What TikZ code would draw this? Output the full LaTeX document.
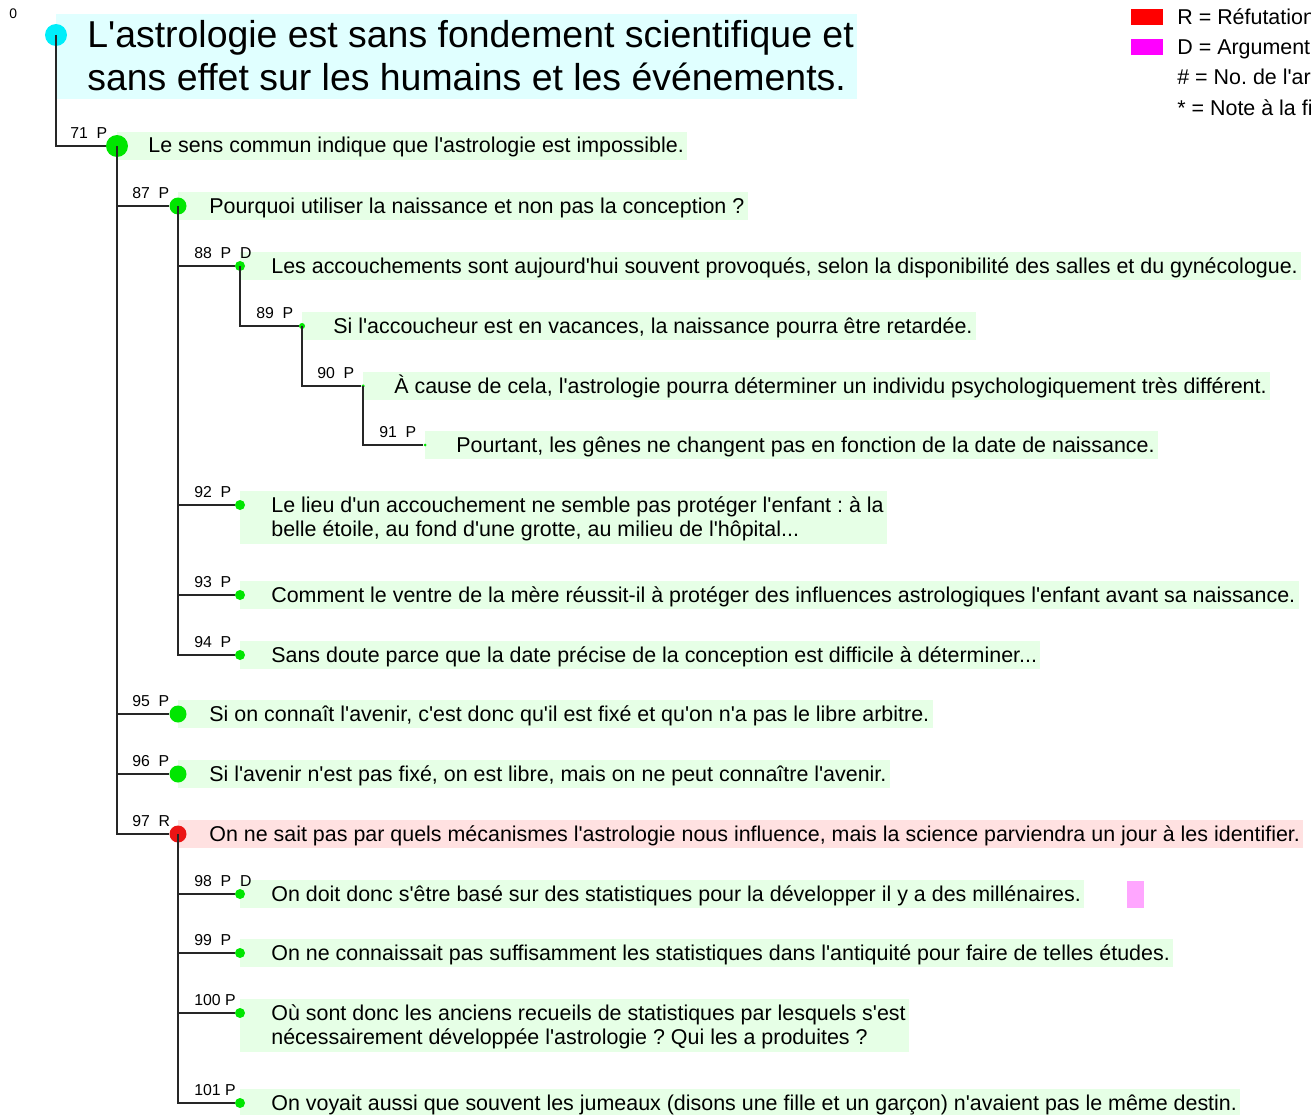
\documentclass[tikz,border=0pt]{standalone}
\usepackage{fontspec}
\setmainfont{Liberation Sans}
\usetikzlibrary{fit, backgrounds}
\definecolor{dotgreen}{RGB}{0,230,0}
\definecolor{boxgreen}{RGB}{230,255,230}
\definecolor{dotcyan}{RGB}{0,238,250}
\definecolor{boxcyan}{RGB}{224,255,255}
\definecolor{dotred}{RGB}{235,20,20}
\definecolor{boxred}{RGB}{255,225,225}
\definecolor{keyred}{RGB}{255,0,0}
\definecolor{keymagenta}{RGB}{255,0,255}
\definecolor{markpink}{RGB}{255,166,255}
\frenchspacing
\newcommand{\ap}{\textquotesingle}
\newcommand{\argfont}{\fontsize{12.2pt}{13.6pt}\selectfont}
\tikzstyle{argdot} = [circle, inner sep=0pt, fill=dotgreen]
\tikzstyle{dotA} = [argdot, minimum size=0.44cm]
\tikzstyle{dotB} = [argdot, minimum size=0.34cm]
\tikzstyle{dotC} = [argdot, minimum size=0.2cm]
\tikzstyle{dotD} = [argdot, minimum size=0.12cm]
\tikzstyle{dotE} = [argdot, minimum size=0.07cm]
\tikzstyle{dotF} = [argdot, minimum size=0.06cm]
\tikzstyle{argtext} = [anchor=west, inner xsep=0.06cm, inner ysep=0pt, text height=0.42cm, text depth=0.14cm, font=\argfont]
\tikzstyle{argtexttwo} = [anchor=north west, inner xsep=0.06cm, inner ysep=0pt, align=left, font=\argfont]
\tikzstyle{argbox} = [inner sep=0pt, fill=boxgreen]
\tikzstyle{numlabel} = [anchor=base west, inner sep=0pt, font=\fontsize{9pt}{10pt}\selectfont]
\tikzstyle{keybox} = [inner sep=0pt, minimum width=0.64cm, minimum height=0.32cm]
\tikzstyle{keytext} = [anchor=base west, inner sep=0pt, font=\fontsize{12.2pt}{14pt}\selectfont]
\tikzstyle{link} = [line width=0.7pt, black!85]

\begin{document}
\begin{tikzpicture}[x=0.02cm, y=-0.02cm]
\useasboundingbox (0,0) rectangle (1311,1115);
\clip (0,0) rectangle (1311,1115);

% Root claim
\node[numlabel, font=\fontsize{7.9pt}{9pt}\selectfont] (lab0) at (9,19) {0};
\node[argdot, fill=dotcyan, minimum size=0.44cm] (a0) at (56,35) {};
\node[anchor=north west, inner xsep=0.06cm, inner ysep=0pt, align=left, font=\fontsize{21.3pt}{24.4pt}\selectfont] (t0) at (84,14)
  {\rule{0pt}{0.66cm}L\ap astrologie est sans fondement scientifique et\\sans effet sur les humains et les événements.\rule[-0.16cm]{0pt}{0.16cm}};

% Legend
\node[keybox, fill=keyred] (keyR) at (1147,17) {};
\node[keytext] (keyRtext) at (1177,25) {R = Réfutation};
\node[keybox, fill=keymagenta] (keyD) at (1147,47) {};
\node[keytext] (keyDtext) at (1177,55) {D = Argument};
\node[keytext] (keyNum) at (1177,85) {\# = No. de l\ap argument};
\node[keytext] (keyNote) at (1177,115) {* = Note à la fin};

% Level 1
\node[dotA] (a71) at (117,146) {};
\node[numlabel] at (70,138) {71~~P};
\node[argtext] (t71) at (145,146) {Le sens commun indique que l\ap astrologie est impossible.};

% Level 2
\node[dotB] (a87) at (178,206) {};
\node[numlabel] at (132,198) {87~~P};
\node[argtext] (t87) at (206,206) {Pourquoi utiliser la naissance et non pas la conception ?};

\node[dotB] (a95) at (178,714) {};
\node[numlabel] at (132,706) {95~~P};
\node[argtext] (t95) at (206,714) {Si on connaît l\ap avenir, c\ap est donc qu\ap il est fixé et qu\ap on n\ap a pas le libre arbitre.};

\node[dotB] (a96) at (178,774) {};
\node[numlabel] at (132,766) {96~~P};
\node[argtext] (t96) at (206,774) {Si l\ap avenir n\ap est pas fixé, on est libre, mais on ne peut connaître l\ap avenir.};

\node[dotB, fill=dotred] (a97) at (178,834) {};
\node[numlabel] at (132,826) {97~~R};
\node[argtext] (t97) at (206,834) {On ne sait pas par quels mécanismes l\ap astrologie nous influence, mais la science parviendra un jour à les identifier.};

% Under 87
\node[dotC] (a88) at (240,266) {};
\node[numlabel] at (194,258) {88~~P~~D};
\node[argtext] (t88) at (268,266) {Les accouchements sont aujourd\ap hui souvent provoqués, selon la disponibilité des salles et du gynécologue.};

\node[dotD] (a89) at (302,326) {};
\node[numlabel] at (256,318) {89~~P};
\node[argtext] (t89) at (330,326) {Si l\ap accoucheur est en vacances, la naissance pourra être retardée.};

\node[dotE] (a90) at (363,386) {};
\node[numlabel] at (317,378) {90~~P};
\node[argtext] (t90) at (391,386) {À cause de cela, l\ap astrologie pourra déterminer un individu psychologiquement très différent.};

\node[dotF] (a91) at (425,445) {};
\node[numlabel] at (379,437) {91~~P};
\node[argtext] (t91) at (453,445) {Pourtant, les gênes ne changent pas en fonction de la date de naissance.};

\node[dotC] (a92) at (240,505) {};
\node[numlabel] at (194,497) {92~~P};
\node[argtexttwo] (t92) at (268,491)
  {\rule{0pt}{0.42cm}Le lieu d\ap un accouchement ne semble pas protéger l\ap enfant : à la\\belle étoile, au fond d\ap une grotte, au milieu de l\ap hôpital...\rule[-0.14cm]{0pt}{0.14cm}};

\node[dotC] (a93) at (240,595) {};
\node[numlabel] at (194,587) {93~~P};
\node[argtext] (t93) at (268,595) {Comment le ventre de la mère réussit-il à protéger des influences astrologiques l\ap enfant avant sa naissance.};

\node[dotC] (a94) at (240,655) {};
\node[numlabel] at (194,647) {94~~P};
\node[argtext] (t94) at (268,655) {Sans doute parce que la date précise de la conception est difficile à déterminer...};

% Under 97
\node[dotC] (a98) at (240,894) {};
\node[numlabel] at (194,886) {98~~P~~D};
\node[argtext] (t98) at (268,894) {On doit donc s\ap être basé sur des statistiques pour la développer il y a des millénaires.};
\node[inner sep=0pt, minimum width=0.34cm, minimum height=0.54cm, fill=markpink] (mark98) at (1135.5,894.5) {};

\node[dotC] (a99) at (240,953) {};
\node[numlabel] at (194,945) {99~~P};
\node[argtext] (t99) at (268,953) {On ne connaissait pas suffisamment les statistiques dans l\ap antiquité pour faire de telles études.};

\node[dotC] (a100) at (240,1013) {};
\node[numlabel] at (194,1005) {100~P};
\node[argtexttwo] (t100) at (268,999)
  {\rule{0pt}{0.42cm}Où sont donc les anciens recueils de statistiques par lesquels s\ap est\\nécessairement développée l\ap astrologie ? Qui les a produites ?\rule[-0.14cm]{0pt}{0.14cm}};

\node[dotC] (a101) at (240,1103) {};
\node[numlabel] at (194,1095) {101~P};
\node[argtext] (t101) at (268,1103) {On voyait aussi que souvent les jumeaux (disons une fille et un garçon) n\ap avaient pas le même destin.};

% Tree links
\draw[link] (a0.center) |- (a71);
\foreach \kid in {87,95,96,97} \draw[link] (a71.center) |- (a\kid);
\foreach \kid in {88,92,93,94} \draw[link] (a87.center) |- (a\kid);
\draw[link] (a88.center) |- (a89);
\draw[link] (a89.center) |- (a90);
\draw[link] (a90.center) |- (a91);
\foreach \kid in {98,99,100,101} \draw[link] (a97.center) |- (a\kid);

% Text backgrounds
\begin{scope}[on background layer]
\node[argbox, fill=boxcyan, fit=(a0.center)(t0)] {};
\foreach \n in {71,87,88,89,90,91,92,93,94,95,96,98,99,100,101}
  \node[argbox, fit=(a\n.center)(t\n)] {};
\node[argbox, fill=boxred, fit=(a97.center)(t97)] {};
\end{scope}

\end{tikzpicture}
\end{document}
